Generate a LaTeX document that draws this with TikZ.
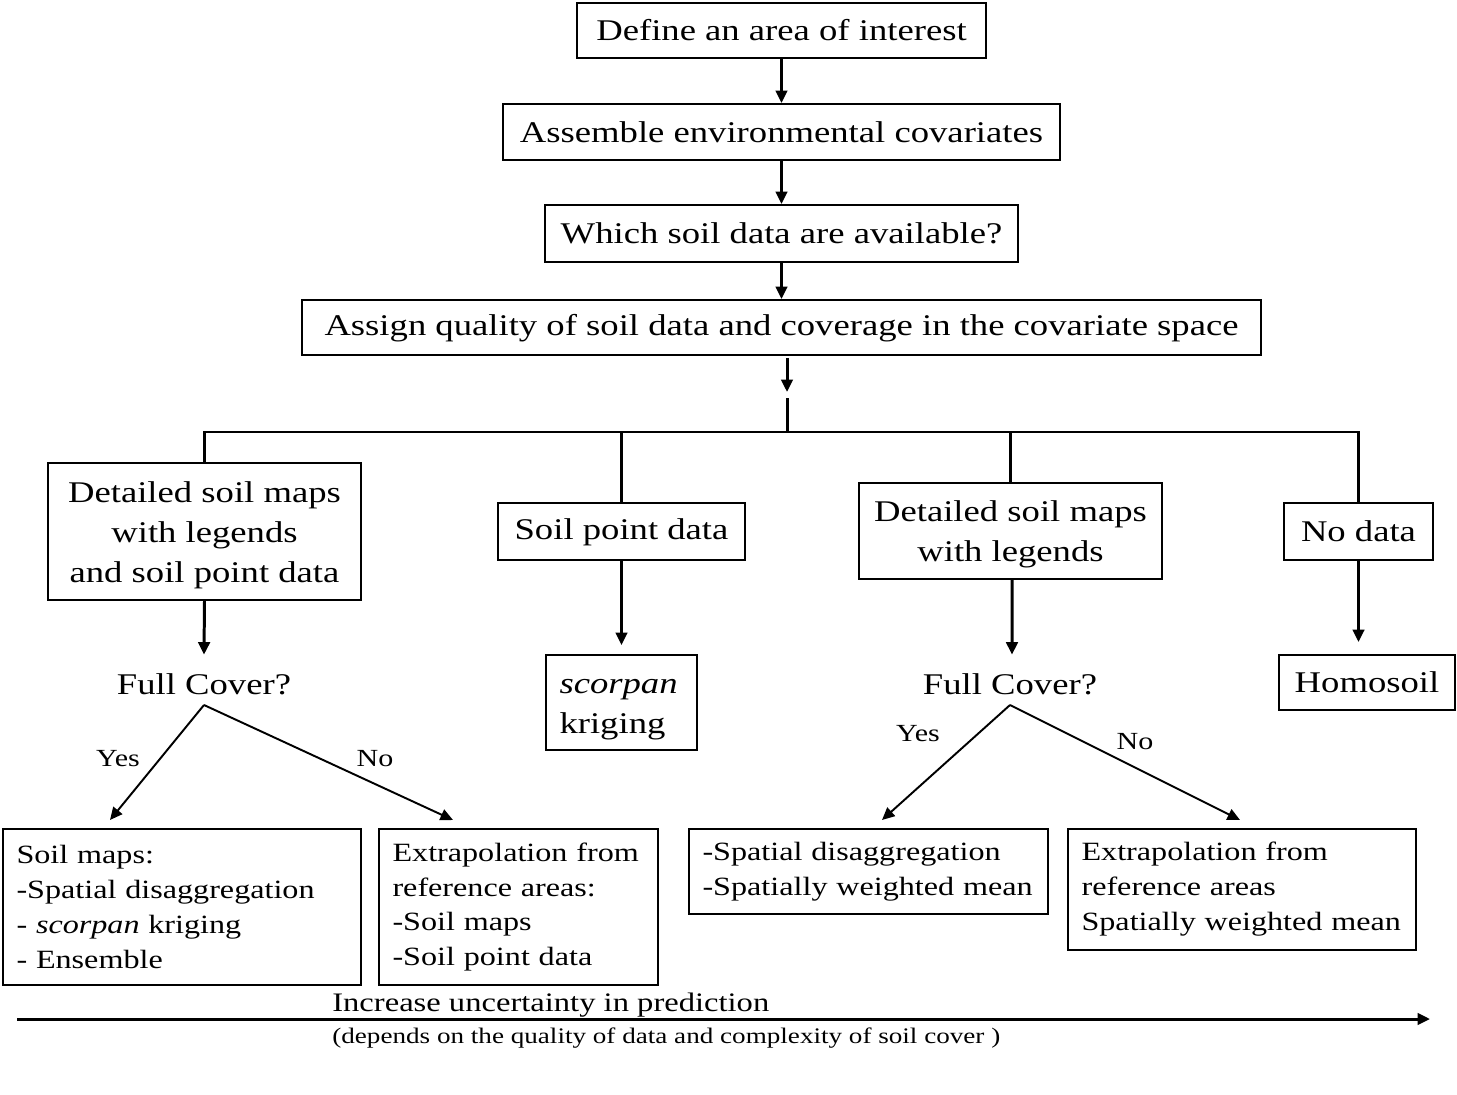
\documentclass[tikz,border=0pt]{standalone}
\usepackage{fontspec}
\setmainfont{Liberation Serif}[FakeStretch=1.22]
\usetikzlibrary{arrows.meta}
\newcommand\boxfont{\fontsize{17.1}{22.8}\selectfont}
\newcommand\listfont{\fontsize{15}{19.9}\selectfont}
\newcommand\lblfont{\fontsize{14}{16}\selectfont}
\newcommand\notefont{\fontsize{12.65}{14}\selectfont}
\newcommand\notebigfont{\fontsize{15.2}{17}\selectfont}

\begin{document}
\begin{tikzpicture}[x=0.02cm,y=-0.02cm,>={Triangle[length=0.25cm,width=0.23cm]},
                    box/.style={draw,line width=1.1pt,inner sep=0pt,align=center,font=\boxfont},
                    list/.style={draw,line width=1.1pt,inner xsep=0.27cm,inner ysep=0pt,align=left,font=\listfont},
                    ask/.style={inner sep=0pt,font=\boxfont,minimum height=1.16cm},
                    link/.style={line width=1.7pt},
                    lbl/.style={font=\lblfont,inner sep=0pt}]
  \useasboundingbox (0,0) rectangle (1457,1095);

  % main chain
  \node[box,minimum width=8.18cm,minimum height=1.1cm]   (area)  at (781.5,30.5) {Define an area of interest};
  \node[box,minimum width=11.14cm,minimum height=1.12cm] (cov)   at (781.5,132)  {Assemble environmental covariates};
  \node[box,minimum width=9.46cm,minimum height=1.14cm]  (avail) at (781.5,233.5) {Which soil data are available?};
  \node[box,minimum width=19.18cm,minimum height=1.1cm]  (qual)  at (781.5,327.5) {\strut Assign quality of soil data and coverage in the covariate space};

  % data cases
  \node[box,minimum width=6.26cm,minimum height=2.74cm] (mapspts) at (204.5,531.5) {\strut Detailed soil maps\\with legends\\and soil point data};
  \node[box,minimum width=4.94cm,minimum height=1.14cm] (pts)     at (621.5,531.5) {\strut Soil point data};
  \node[box,minimum width=6.06cm,minimum height=1.92cm] (maps)    at (1010.5,531)  {\strut Detailed soil maps\\with legends};
  \node[box,minimum width=2.98cm,minimum height=1.14cm] (nodata)  at (1358.5,531.5) {No data};

  \node[ask] (fcA) at (204,684)  {Full Cover?};
  \node[ask] (fcB) at (1010,684) {Full Cover?};
  \node[list,font=\boxfont,text width=2.48cm,minimum height=1.9cm] (krig) at (621.5,702.5) {\strut\textit{scorpan}\\kriging};
  \node[box,minimum width=3.52cm,minimum height=1.1cm] (homo) at (1367,682.5) {Homosoil};

  % results
  \node[list,text width=6.62cm,minimum height=3.12cm] (resA) at (182,907)    {Soil maps:\\-Spatial disaggregation\\- \textit{scorpan} kriging\\- Ensemble};
  \node[list,text width=5.04cm,minimum height=3.12cm] (resB) at (518.5,907)  {Extrapolation from\\reference areas:\\-Soil maps\\-Soil point data};
  \node[list,text width=6.64cm,minimum height=1.7cm]  (resC) at (868.5,871.5) {-Spatial disaggregation\\-Spatially weighted mean};
  \node[list,text width=6.42cm,minimum height=2.42cm] (resD) at (1242,889.5) {Extrapolation from\\reference areas\\Spatially weighted mean};

  \coordinate (split) at (787,395);
  \coordinate (bus)   at (787,432);
  \coordinate (apexA) at (204,705);
  \coordinate (apexB) at (1010,705);
  \coordinate (yesA)  at (110,820);
  \coordinate (noA)   at (453,820);
  \coordinate (yesB)  at (882,820);
  \coordinate (noB)   at (1240,820);
  \coordinate (low)   at (17,1019);
  \coordinate (high)  at (1430,1019);

  \draw[link,->] (area) -- (cov);
  \draw[link,->] (cov) -- (avail);
  \draw[link,->] (avail) -- (qual);
  \draw[link,->,shorten <=0.04cm] (qual.south -| split) -- ([yshift=0.06cm]split);
  \draw[link] ([yshift=-0.06cm]split) -- (bus);
  \draw[link] (mapspts.north) -- (mapspts.north |- bus) -- (nodata.north |- bus) -- (nodata.north);
  \draw[link] (pts.north) -- (pts.north |- bus);
  \draw[link] (maps.north) -- (maps.north |- bus);

  \draw[link,->] (mapspts.south) -- (fcA.north);
  \draw[link,->,shorten >=0.18cm] (pts.south) -- (krig.north);
  \draw[link,->] ([xshift=0.03cm]maps.south) -- ([xshift=0.04cm]fcB.north);
  \draw[link,->,shorten >=0.24cm] (nodata.south) -- (nodata.south |- homo.north);

  \draw[line width=1.1pt,->] (apexA) -- (yesA);
  \draw[line width=1.1pt,->] (apexA) -- (noA);
  \draw[line width=1.1pt,->] (apexB) -- (yesB);
  \draw[line width=1.1pt,->] (apexB) -- (noB);
  \node[lbl] (lyA) at (118,759)  {Yes};
  \node[lbl] (lnA) at (375,759)  {No};
  \node[lbl] (lyB) at (918,734)  {Yes};
  \node[lbl] (lnB) at (1135,742) {No};

  % uncertainty axis
  \draw[link,->] (low) -- (high);
  \node[anchor=west,inner sep=0pt,font=\notebigfont] (axis) at (332,1005) {Increase uncertainty in prediction};
  \node[anchor=west,inner sep=0pt,font=\notefont]    (dep)  at (332,1038) {(depends on the quality of data and complexity of soil cover )};
\end{tikzpicture}
\end{document}
